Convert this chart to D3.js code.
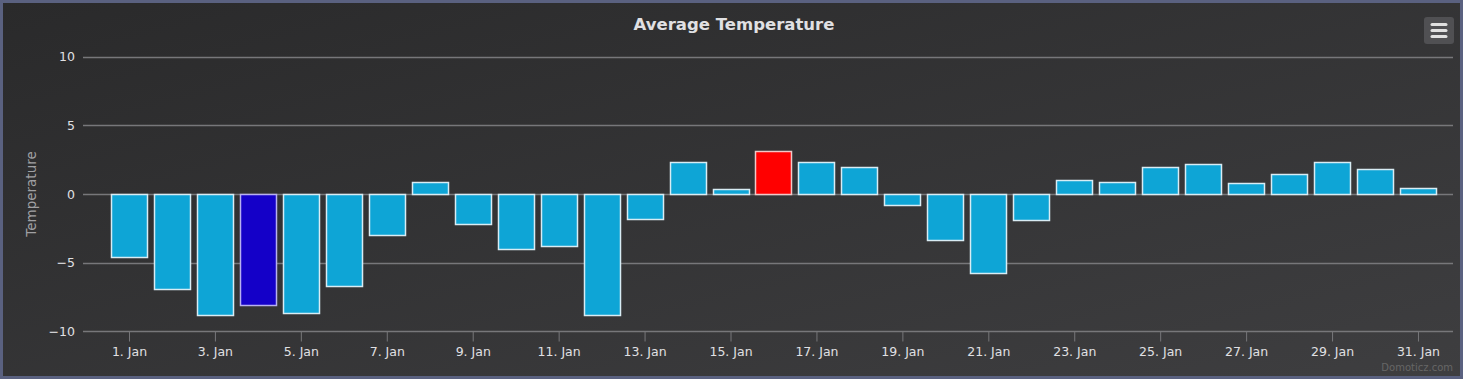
<!DOCTYPE html>
<html>
<meta charset="utf-8">
<head>
<script src="https://d3js.org/d3.v7.min.js"></script>
<style>
body { margin: 0; background: #5a6180; }
svg { display: block; }
text { font-family: "DejaVu Sans", sans-serif; }
</style>
</head>
<body>
<script>
// jours du mois et temperatures moyennes
var days = d3.range(1, 32);
var temps = [-4.55, -6.9, -8.8, -8.1, -8.65, -6.7, -2.95, 0.9, -2.2, -4.0,
             -3.8, -8.8, -1.85, 2.35, 0.4, 3.1, 2.3, 1.96, -0.78, -3.38,
             -5.75, -1.86, 1.0, 0.9, 1.98, 2.17, 0.8, 1.45, 2.34, 1.83, 0.41];
var yTicks = [-10, -5, 0, 5, 10];
var xTickDays = d3.range(1, 32, 2);
var minDay = 4, maxDay = 16; // jour le plus froid / le plus chaud

var width = 1463, height = 379;
var svg = d3.select("body").append("svg")
  .attr("width", width).attr("height", height);

var defs = svg.append("defs");
var grad = defs.append("linearGradient").attr("id", "bg")
  .attr("x1", 0).attr("y1", 0).attr("x2", 1).attr("y2", 1);
grad.append("stop").attr("offset", "0%").attr("stop-color", "#2a2a2b");
grad.append("stop").attr("offset", "100%").attr("stop-color", "#3e3e40");

// cadre + fond
svg.append("rect").attr("x", 3).attr("y", 3)
  .attr("width", width - 6).attr("height", height - 6)
  .attr("fill", "url(#bg)");

var x = d3.scaleLinear().domain([-0.07, 31.815]).range([83, 1453]);
var y = d3.scaleLinear().domain([-10, 10]).range([331.5, 56.5]);
var barW = 36;

// grille
svg.append("g").selectAll("line")
  .data(yTicks.filter(function (d) { return d != -10; }))
  .join("line")
  .attr("x1", 83).attr("x2", 1453)
  .attr("y1", function (d) { return Math.round(y(d)) + 0.5; })
  .attr("y2", function (d) { return Math.round(y(d)) + 0.5; })
  .attr("stroke", "#77777a").attr("stroke-width", 1.3);

// barres
svg.append("g").selectAll("rect")
  .data(days)
  .join("rect")
  .attr("x", function (d) { return Math.round(x(d) - barW / 2) + 0.5; })
  .attr("width", barW)
  .attr("y", function (d, i) { return Math.round(y(Math.max(0, temps[i]))) + 0.5; })
  .attr("height", function (d, i) { return Math.abs(Math.round(y(temps[i])) - Math.round(y(0))); })
  .attr("fill", function (d) {
    if (d == minDay) return "#1400c8";
    if (d == maxDay) return "#ff0000";
    return "#0ea5d6";
  })
  .attr("stroke", function (d) {
    if (d == minDay) return "#b8b0f0";
    if (d == maxDay) return "#f0c8c8";
    return "#d8ecf4";
  })
  .attr("stroke-width", 1.5);

// axe x
var xAxis = d3.axisBottom(x).tickValues(xTickDays)
  .tickSize(10).tickPadding(6)
  .tickFormat(function (d) { return d + ". Jan"; });
var gx = svg.append("g").attr("transform", "translate(0,331.5)").call(xAxis);
gx.select(".domain").remove();
gx.append("line").attr("x1", 83).attr("x2", 1453).attr("stroke", "#77777a").attr("stroke-width", 1.3);
gx.selectAll(".tick line").attr("stroke", "#77777a").attr("y1", 0);
gx.selectAll(".tick text").attr("fill", "#e0e0e3")
  .attr("font-size", 12.5).attr("font-family", "DejaVu Sans");

// axe y
var yAxis = d3.axisLeft(y).tickValues(yTicks).tickSize(0).tickPadding(8)
  .tickFormat(function (d) { return d < 0 ? "\u2212" + Math.abs(d) : d; });
var gy = svg.append("g").attr("transform", "translate(83,0)").call(yAxis);
gy.select(".domain").remove();
gy.selectAll(".tick text").attr("fill", "#e0e0e3")
  .attr("font-size", 12.5).attr("font-family", "DejaVu Sans");

svg.append("text")
  .attr("transform", "translate(36,194) rotate(-90)")
  .attr("text-anchor", "middle")
  .attr("fill", "#a0a0a3").attr("font-size", 13.5)
  .text("Temperature");

// titre
svg.append("text").attr("x", 734).attr("y", 30)
  .attr("text-anchor", "middle")
  .attr("fill", "#e0e0e3").attr("font-size", 16.5).attr("font-weight", "bold")
  .text("Average Temperature");

// bouton export
var btn = svg.append("g").attr("transform", "translate(1424,17)");
btn.append("rect").attr("width", 30).attr("height", 27).attr("rx", 3)
  .attr("fill", "#505053");
[7.5, 13.5, 19.5].forEach(function (yy) {
  btn.append("line").attr("x1", 8).attr("x2", 22).attr("y1", yy).attr("y2", yy)
    .attr("stroke", "#e0e0e0").attr("stroke-width", 3).attr("stroke-linecap", "round");
});

svg.append("text").attr("x", 1453).attr("y", 371)
  .attr("text-anchor", "end")
  .attr("fill", "#666").attr("font-size", 10)
  .text("Domoticz.com");
</script>
</body>
</html>
